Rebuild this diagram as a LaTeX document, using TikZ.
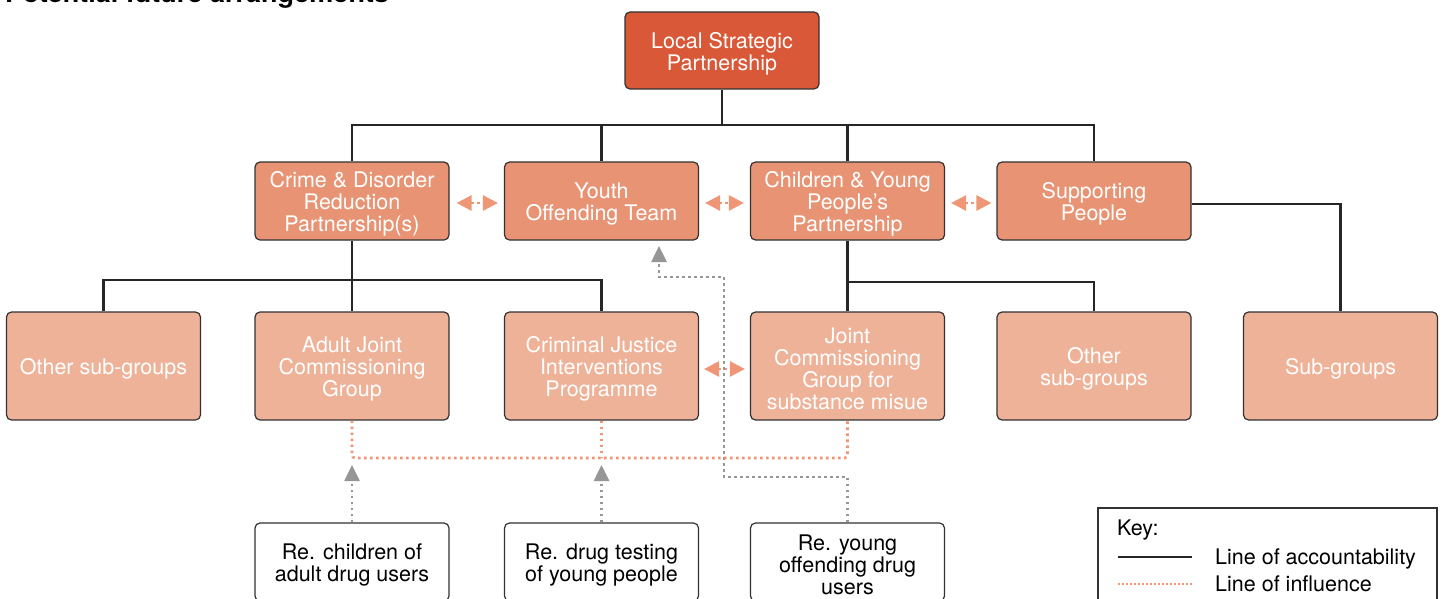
\documentclass[tikz,border=0pt]{standalone}
\usepackage{fontspec}
\setmainfont{TeX Gyre Heros}
\usetikzlibrary{arrows.meta}
\definecolor{lspfill}{RGB}{217,88,55}
\definecolor{midfill}{RGB}{232,148,116}
\definecolor{lowfill}{RGB}{238,178,152}
\definecolor{edgegray}{RGB}{50,50,50}
\definecolor{inflor}{RGB}{238,150,118}
\definecolor{grayline}{RGB}{150,150,150}
\newcommand\tp{\rule{0pt}{22pt}}
\tikzset{
  basebox/.style={draw=edgegray, line width=1.2pt, rounded corners=5pt, align=center, inner sep=0pt,
    font=\fontsize{21.5}{22}\selectfont, minimum width=194pt},
  lspbox/.style={basebox, fill=lspfill, text=white, minimum height=77pt},
  midbox/.style={basebox, fill=midfill, text=white, minimum height=78pt},
  lowbox/.style={basebox, fill=lowfill, text=white, minimum height=108pt},
  rebox/.style={basebox, fill=white, text=black, minimum height=78pt},
  acc/.style={draw=black!85, line width=2.4pt},
  infl/.style={draw=inflor, line width=2.6pt, dash pattern=on 2.6pt off 3.4pt},
  infarrow/.style={infl, {Triangle[width=15pt,length=15pt,fill=inflor]}-{Triangle[width=15pt,length=15pt,fill=inflor]}},
  gline/.style={draw=grayline, line width=2.6pt, dash pattern=on 2.6pt off 3.4pt},
  garrow/.style={gline, -{Triangle[width=15pt,length=16pt,fill=grayline]}},
  keytext/.style={font=\fontsize{21.5}{22}\selectfont, inner sep=0pt, text=black}
}
\begin{document}
\begin{tikzpicture}[x=1pt,y=-1pt]
\useasboundingbox (0,0) rectangle (1447,599);
\fill[white] (0,0) rectangle (1447,599);
\node[anchor=base west, inner sep=0pt, font=\fontsize{27}{27}\selectfont\bfseries] (title) at (5,3) {Potential future arrangements};

% top
\node[lspbox] (lsp) at (722,50.5) {\tp Local Strategic\\Partnership};
% second row
\node[midbox] (crime) at (352,201) {\tp Crime \& Disorder\\Reduction\\Partnership(s)};
\node[midbox] (yot) at (601.5,201) {\tp Youth\\Offending Team};
\node[midbox] (cypp) at (847.5,201) {\tp Children \& Young\\People’s\\Partnership};
\node[midbox] (sp) at (1094,201) {\tp Supporting\\People};
% third row
\node[lowbox] (osg1) at (103.5,366) {\tp Other sub-groups};
\node[lowbox] (adult) at (352,366) {\tp Adult Joint\\Commissioning\\Group};
\node[lowbox] (cjip) at (601.5,366) {\tp Criminal Justice\\Interventions\\Programme};
\node[lowbox] (jcg) at (847.5,366) {\tp Joint\\Commissioning\\Group for\\substance misue};
\node[lowbox] (osg2) at (1094,366) {\tp Other\\sub-groups};
\node[lowbox] (subg) at (1340.5,366) {\tp Sub-groups};
% bottom
\node[rebox] (rc) at (352,562) {\tp Re. children of\\adult drug users};
\node[rebox] (rd) at (601.5,562) {\tp Re. drug testing\\of young people};
\node[rebox] (ry) at (847.5,562) {\tp Re. young\\offending drug\\users};

% accountability lines
\coordinate (bus1) at (722,125);
\coordinate (bus2) at (352,280);
\coordinate (bus3) at (847.5,282);
\draw[acc] (lsp.south) -- (bus1);
\draw[acc] (crime.north) |- (bus1) -| (sp.north);
\draw[acc] (yot.north) -- (yot.north |- bus1);
\draw[acc] (cypp.north) -- (cypp.north |- bus1);
\draw[acc] (crime.south) -- (adult.north);
\draw[acc] (osg1.north) |- (bus2) -| (cjip.north);
\draw[acc] (cypp.south) -- (jcg.north);
\draw[acc] (bus3) -| (osg2.north);
\draw[acc] ([yshift=-3pt]sp.east) -| (subg.north);

% influence arrows between boxes
\draw[infarrow] ([xshift=7pt,yshift=-2pt]crime.east) -- ([xshift=-6pt,yshift=-2pt]yot.west);
\draw[infarrow] ([xshift=6pt,yshift=-2pt]yot.east) -- ([xshift=-6pt,yshift=-2pt]cypp.west);
\draw[infarrow] ([xshift=6pt,yshift=-2pt]cypp.east) -- ([xshift=-5pt,yshift=-2pt]sp.west);
\draw[infarrow] ([xshift=5pt,yshift=-3pt]cjip.east) -- ([xshift=-5pt,yshift=-3pt]jcg.west);

% gray line from young offending drug users to YOT
\coordinate (g1) at (724,477);
\coordinate (g2) at (659,277);
\coordinate (g3) at (659,246);
\draw[garrow] (ry.north) |- (g1) |- (g2) -- (g3);

% influence under third row
\coordinate (inf) at (601.5,458);
\draw[infl, rounded corners=3pt] (adult.south) |- (inf) -| (jcg.south);
\draw[infl] (cjip.south) -- (inf);

% gray arrows up
\coordinate (ra) at (352,465);
\coordinate (rb) at (601.5,465);
\draw[garrow] (rc.north) -- (ra);
\draw[garrow] (rd.north) -- (rb);

% key
\node[draw=edgegray, line width=1.2pt, minimum width=339pt, minimum height=102pt, inner sep=0pt] (key) at (1267.5,559) {};
\node[keytext, anchor=base west] (keyt) at (1117,535) {Key:};
\coordinate (ka1) at (1118,557);
\coordinate (ka2) at (1192,557);
\coordinate (ki1) at (1118,584);
\coordinate (ki2) at (1192,584);
\draw[draw=black!85, line width=2.2pt] (ka1) -- (ka2);
\draw[draw=inflor, line width=1.6pt, dash pattern=on 1.6pt off 2.4pt] (ki1) -- (ki2);
\node[keytext, anchor=base west] (kl1) at (1215,564) {Line of accountability};
\node[keytext, anchor=base west] (kl2) at (1215,591) {Line of influence};
\end{tikzpicture}
\end{document}
